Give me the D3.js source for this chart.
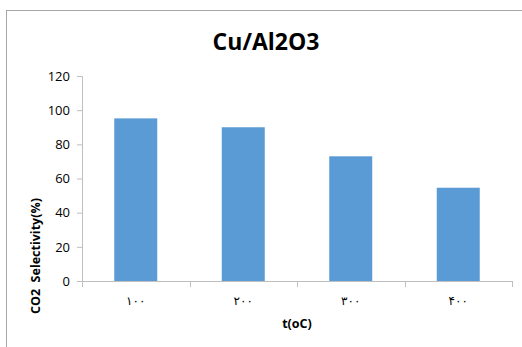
<!DOCTYPE html>
<html>
<head>
<meta charset="utf-8">
<script src="https://cdn.jsdelivr.net/npm/d3@7"></script>
<style>
  html, body { margin: 0; padding: 0; background: #fff; }
  svg { display: block; }
  text { font-family: "Open Sans", "Noto Sans", sans-serif; fill: #000; }
</style>
</head>
<body>
<svg id="chart" width="522" height="347"></svg>
<script>
// Temperature categories (Persian digits) and CO2 selectivity values
const categories = ["۱۰۰", "۲۰۰", "۳۰۰", "۴۰۰"];
const selectivity = [95.2, 90, 73, 54.6];
const yTicks = [0, 20, 40, 60, 80, 100, 120];
const titleText = "Cu/Al2O3";
const xTitle = "t(oC)";
const yTitle = "CO2  Selectivity(%)";

const svg = d3.select("#chart");
const plot = { left: 82, right: 512, top: 76, bottom: 281 };

// chart area frame
svg.append("rect")
  .attr("x", 6.5).attr("y", 10.5)
  .attr("width", 530).attr("height", 360)
  .attr("fill", "#fff").attr("stroke", "#a6a6a6").attr("stroke-width", 1);

const x = d3.scaleBand()
  .domain(categories)
  .range([plot.left, plot.right])
  .paddingInner(0.6)
  .paddingOuter(0.3);

const y = d3.scaleLinear()
  .domain([0, 120])
  .range([plot.bottom, plot.top]);

// bars
svg.append("g").selectAll("rect")
  .data(categories.map((c, i) => ({ c, v: selectivity[i] })))
  .join("rect")
  .attr("x", d => x(d.c))
  .attr("y", d => y(d.v))
  .attr("width", x.bandwidth())
  .attr("height", d => y(0) - y(d.v))
  .attr("fill", "#5b9bd5");

// y axis
const yAxis = svg.append("g")
  .attr("transform", `translate(${plot.left},0)`)
  .call(d3.axisLeft(y).tickValues(yTicks).tickSize(5).tickPadding(7));
yAxis.select(".domain").attr("stroke", "#bfbfbf");
yAxis.selectAll(".tick line").attr("stroke", "#bfbfbf");
yAxis.selectAll(".tick text")
  .style("font-family", "'Open Sans', sans-serif")
  .style("font-size", "13px")
  .attr("fill", "#404040");

// x axis with boundary ticks between categories
const xAxisG = svg.append("g").attr("transform", `translate(0,${plot.bottom})`);
xAxisG.append("line")
  .attr("x1", plot.left).attr("x2", plot.right)
  .attr("y1", 0.5).attr("y2", 0.5)
  .attr("stroke", "#bfbfbf");
const step = x.step();
const bounds = d3.range(categories.length + 1).map(i => plot.left + i * step);
xAxisG.selectAll("line.b")
  .data(bounds)
  .join("line")
  .attr("class", "b")
  .attr("x1", d => Math.round(d) + 0.5).attr("x2", d => Math.round(d) + 0.5)
  .attr("y1", 0).attr("y2", 6)
  .attr("stroke", "#bfbfbf");
xAxisG.selectAll("text")
  .data(categories)
  .join("text")
  .attr("x", d => x(d) + x.bandwidth() / 2)
  .attr("y", 24)
  .attr("text-anchor", "middle")
  .style("font-family", "'Noto Sans', 'DejaVu Sans', sans-serif")
  .style("font-size", "12px")
  .style("letter-spacing", "2px")
  .attr("fill", "#404040")
  .text(d => d);

// titles
svg.append("text")
  .attr("x", 266).attr("y", 50)
  .attr("text-anchor", "middle")
  .style("font-size", "23px").style("font-weight", "bold")
  .text(titleText);

svg.append("text")
  .attr("x", (plot.left + plot.right) / 2).attr("y", 328)
  .attr("text-anchor", "middle")
  .style("font-size", "12.5px").style("font-weight", "bold")
  .text(xTitle);

svg.append("text")
  .attr("transform", "translate(40,256) rotate(-90)")
  .attr("text-anchor", "middle")
  .style("font-size", "12.5px").style("font-weight", "bold")
  .style("white-space", "pre")
  .text(yTitle);
</script>
</body>
</html>
